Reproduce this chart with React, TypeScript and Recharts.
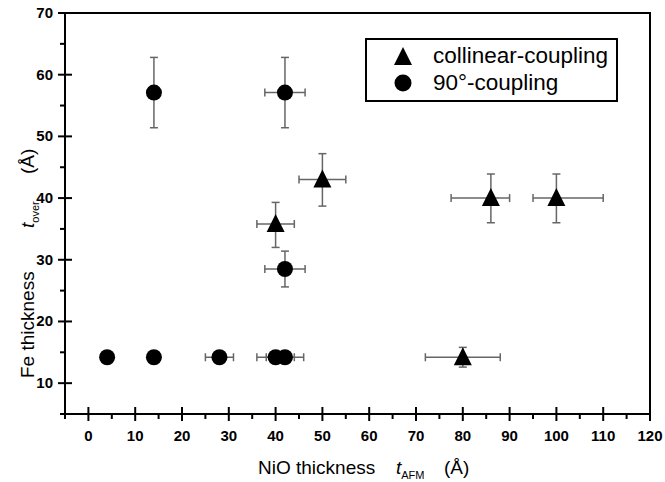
import React from "react";
import {
  ScatterChart,
  Scatter,
  XAxis,
  YAxis,
  ErrorBar,
  ReferenceArea,
  Legend,
} from "recharts";

// collinear-coupling (triangles)
const collinearX = [40, 50, 80, 86, 100];
const collinearY = [35.8, 43, 14.2, 40, 40];
const collinearXErr = [[4, 4], [5, 5], [8, 8], [8.5, 4], [5, 10]];
const collinearYErr = [[3.8, 3.5], [4.3, 4.2], [1.6, 1.6], [4, 3.9], [4, 3.9]];

// 90°-coupling (circles)
const ninetyX = [4, 14, 14, 28, 40, 42, 42, 42];
const ninetyY = [14.2, 14.2, 57.1, 14.2, 14.2, 14.2, 28.5, 57.1];
const ninetyXErr = [0, 0, 0, 3, 4, 4, 4.3, 4.3];
const ninetyYErr = [0, 0, 5.7, 0, 0, 0, 2.9, 5.7];

const xTicks = [-5, 0, 5, 10, 15, 20, 25, 30, 35, 40, 45, 50, 55, 60, 65, 70, 75, 80, 85, 90, 95, 100, 105, 110, 115, 120];
const yTicks = [5, 10, 15, 20, 25, 30, 35, 40, 45, 50, 55, 60, 65, 70];

const FONT = "'Liberation Sans', Arial, sans-serif";
const ERR = "#666";

const collinearData = collinearX.map((x, i) => ({
  x,
  y: collinearY[i],
  ex: collinearXErr[i],
  ey: collinearYErr[i],
}));

const ninetyData = ninetyX.map((x, i) => ({
  x,
  y: ninetyY[i],
  ex: ninetyXErr[i],
  ey: ninetyYErr[i],
}));

const Triangle = ({ cx, cy }: any) => (
  <path d={`M${cx},${cy - 10} L${cx - 9},${cy + 8} L${cx + 9},${cy + 8} Z`} fill="#000" />
);

const Dot = ({ cx, cy }: any) => <circle cx={cx} cy={cy} r={8} fill="#000" />;

const XTick = ({ x, y, payload }: any) => {
  const v = payload.value;
  const major = v % 10 === 0;
  return (
    <g>
      <line x1={x} x2={x} y1={major ? y - 7 : y} y2={major ? y + 7 : y + 5} stroke="#000" strokeWidth={2} />
      {major && (
        <text x={x} y={y + 27} textAnchor="middle" fontFamily={FONT} fontWeight="bold" fontSize={15} fill="#000">
          {v}
        </text>
      )}
    </g>
  );
};

const YTick = ({ x, y, payload }: any) => {
  const v = payload.value;
  const major = v % 10 === 0;
  return (
    <g>
      <line x1={major ? x - 7 : x - 5} x2={major ? x + 7 : x} y1={y} y2={y} stroke="#000" strokeWidth={2} />
      {major && (
        <text x={x - 12} y={y + 5} textAnchor="end" fontFamily={FONT} fontWeight="bold" fontSize={15} fill="#000">
          {v}
        </text>
      )}
    </g>
  );
};

const XTitle = () => (
  <text x={258} y={474} fontFamily={FONT} fontSize={19} fill="#000">
    NiO thickness
    <tspan x={396} fontStyle="italic">t</tspan>
    <tspan dy={5} fontSize={11}>AFM</tspan>
    <tspan x={444} dy={-5}>(Å)</tspan>
  </text>
);

const YTitle = () => (
  <text x={0} y={0} transform="translate(34,378) rotate(-90)" fontFamily={FONT} fontSize={19} fill="#000">
    Fe thickness
    <tspan x={150} fontStyle="italic">t</tspan>
    <tspan dy={5} fontSize={11}>over</tspan>
    <tspan x={204} dy={-5}>(Å)</tspan>
  </text>
);

const renderLegend = () => (
  <svg width={253} height={64} style={{ display: "block" }}>
    <rect x={1} y={1} width={251} height={62} fill="#fff" stroke="#000" strokeWidth={2} />
    <Triangle cx={38} cy={19} />
    <circle cx={38} cy={45} r={8.5} fill="#000" />
    <text x={68} y={25} fontFamily={FONT} fontSize={22.5} fill="#000">collinear-coupling</text>
    <text x={68} y={52} fontFamily={FONT} fontSize={22.5} fill="#000">90°-coupling</text>
  </svg>
);

export default function App() {
  return (
    <div style={{ position: "fixed", left: 0, top: 0, width: 665, height: 482, background: "#fff" }}>
      <ScatterChart width={665} height={482} margin={{ top: 13, right: 15, bottom: 8, left: 5 }}>
        <XAxis
          type="number"
          dataKey="x"
          domain={[-5, 120]}
          ticks={xTicks}
          interval={0}
          tickSize={0}
          tickMargin={0}
          tick={<XTick />}
          height={60}
          axisLine={{ stroke: "#000", strokeWidth: 2 }}
          tickLine={false}
          label={<XTitle />}
        />
        <YAxis
          type="number"
          dataKey="y"
          domain={[5, 70]}
          ticks={yTicks}
          interval={0}
          tickSize={0}
          tickMargin={0}
          tick={<YTick />}
          width={60}
          axisLine={{ stroke: "#000", strokeWidth: 2 }}
          tickLine={false}
          label={<YTitle />}
        />
        <ReferenceArea x1={-5} x2={120} y1={5} y2={70} fill="none" stroke="#000" strokeWidth={2} fillOpacity={0} />
        <Scatter name="collinear-coupling" data={collinearData} shape={<Triangle />} isAnimationActive={false}>
          <ErrorBar dataKey="ex" direction="x" width={4} stroke={ERR} strokeWidth={1.5} />
          <ErrorBar dataKey="ey" direction="y" width={4} stroke={ERR} strokeWidth={1.5} />
        </Scatter>
        <Scatter name="90°-coupling" data={ninetyData} shape={<Dot />} isAnimationActive={false}>
          <ErrorBar dataKey="ex" direction="x" width={4} stroke={ERR} strokeWidth={1.5} />
          <ErrorBar dataKey="ey" direction="y" width={4} stroke={ERR} strokeWidth={1.5} />
        </Scatter>
        <Legend
          layout="vertical"
          align="center"
          verticalAlign="middle"
          content={renderLegend}
          wrapperStyle={{ position: "absolute", left: 365, top: 38, width: 253, height: 64 }}
        />
      </ScatterChart>
    </div>
  );
}
